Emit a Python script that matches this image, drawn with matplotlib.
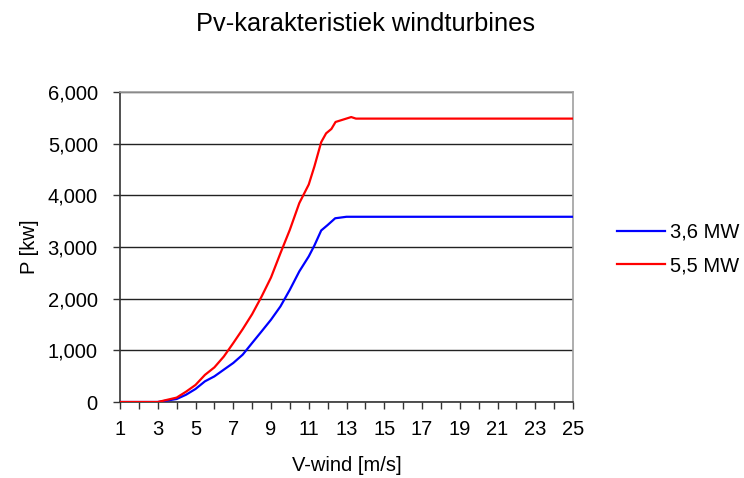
import matplotlib
matplotlib.use("Agg")
import matplotlib.pyplot as plt
from matplotlib.ticker import FuncFormatter, MultipleLocator

plt.rcParams["font.family"] = ["Liberation Sans", "DejaVu Sans"]

# power curves
v_36 = [1, 2, 3, 4, 4.5, 5, 5.5, 6, 6.5, 7, 7.5, 8, 8.5, 9, 9.5, 10, 10.5, 11,
        11.3, 11.66, 12, 12.4, 13, 14, 15, 16, 17, 18, 19, 20, 21, 22, 23, 24, 25]
p_36 = [0, 0, 0, 58, 141, 252, 400, 496, 626, 755, 916, 1142, 1366, 1593, 1850,
        2174, 2528, 2818, 3030, 3320, 3425, 3556, 3585, 3585, 3585, 3585, 3585,
        3585, 3585, 3585, 3585, 3585, 3585, 3585, 3585]

v_55 = [1, 2, 3, 4, 4.5, 5, 5.5, 6, 6.5, 7, 7.5, 8, 8.5, 9, 9.5, 10, 10.5, 11,
        11.3, 11.66, 11.92, 12.2, 12.42, 13.25, 13.5, 14, 15, 16, 17, 18, 19, 20,
        21, 22, 23, 24, 25]
p_55 = [0, 0, 0, 85, 200, 330, 525, 670, 880, 1140, 1410, 1700, 2040, 2410, 2880,
        3335, 3850, 4210, 4560, 5030, 5200, 5285, 5420, 5515, 5485, 5485, 5485,
        5485, 5485, 5485, 5485, 5485, 5485, 5485, 5485, 5485, 5485]

labels = ["3,6 MW", "5,5 MW"]
x_ticks = list(range(1, 26, 2))

fig = plt.figure(figsize=(7.44, 4.78), dpi=100)
ax = fig.add_axes([120 / 744, 1 - 402 / 478, 453 / 744, 310 / 478])

ax.plot(v_36, p_36, color="#0000ff", lw=1.6, label=labels[0], zorder=3)
ax.plot(v_55, p_55, color="#ff0000", lw=1.6, label=labels[1], zorder=3)

ax.set_xlim(1, 25)
ax.set_ylim(0, 6000)
ax.set_xticks(x_ticks)
ax.xaxis.set_minor_locator(MultipleLocator(1))
ax.yaxis.set_major_locator(MultipleLocator(1000))
ax.yaxis.set_major_formatter(FuncFormatter(lambda y, _: f"{int(y):,}"))

ax.grid(axis="y", color="#222222", lw=1)
ax.set_axisbelow(True)
for s in ["top", "right"]:
    ax.spines[s].set_color("#a0a0a0")
    ax.spines[s].set_linewidth(1.2)
for s in ["left", "bottom"]:
    ax.spines[s].set_color("#333333")
    ax.spines[s].set_linewidth(1.2)

ax.tick_params(axis="both", which="both", direction="out", length=5, width=1,
               color="#333333", labelsize=14.5)
ax.tick_params(axis="x", which="major", pad=8)
ax.tick_params(axis="y", pad=11)

ax.set_xlabel("V-wind [m/s]", fontsize=14.5, labelpad=12)
ax.set_ylabel("P [kw]", fontsize=14.5, labelpad=6)
fig.text(366 / 744, 1 - 24 / 478, "Pv-karakteristiek windturbines",
         fontsize=18.3, ha="center", va="center")

ax.legend(loc="center left", bbox_to_anchor=(617 / 744, 1 - 249 / 478),
          bbox_transform=fig.transFigure, frameon=False, fontsize=14.5,
          handlelength=2.4, handletextpad=0.25, labelspacing=0.7,
          borderpad=0, borderaxespad=0)

fig.savefig("out.png", dpi=100)
